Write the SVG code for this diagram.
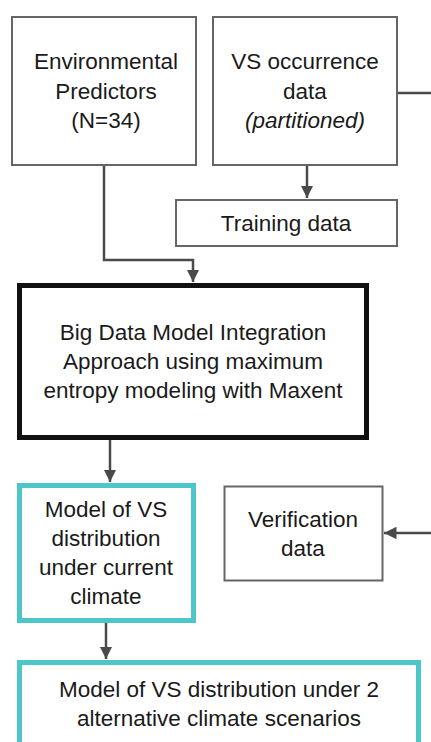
<svg xmlns="http://www.w3.org/2000/svg" width="431" height="742" viewBox="0 0 431 742">
<style>
.box{fill:#fff;stroke:#666;stroke-width:2}
.big{fill:#fff;stroke:#111;stroke-width:5}
.teal{fill:#fff;stroke:#4cc6c8;stroke-width:5}
text{font-family:"Liberation Sans",Arial,sans-serif;font-size:22.5px;fill:#1a1a1a;text-anchor:middle}
.c{fill:none;stroke:#4a4a4a;stroke-width:2.5}
</style>
<defs>
<marker id="ah" viewBox="0 0 10 10" refX="10" refY="5" markerWidth="5" markerHeight="5" orient="auto" markerUnits="strokeWidth">
<path d="M0,0 L10,5 L0,10 z" fill="#4a4a4a"/>
</marker>
</defs>
<rect width="431" height="742" fill="#fff"/>
<g id="connectors">
<path class="c" d="M104,165 V260 H193 V282" marker-end="url(#ah)"/>
<path class="c" d="M307,165 V198" marker-end="url(#ah)"/>
<path class="c" d="M397,93 H440 V533 H384" marker-end="url(#ah)"/>
<path class="c" d="M110,440 V482" marker-end="url(#ah)"/>
<path class="c" d="M106,623 V659" marker-end="url(#ah)"/>
</g>
<g id="env">
<rect class="box" x="12" y="17" width="184" height="148"/>
<text x="106" y="69">Environmental</text>
<text x="106" y="99">Predictors</text>
<text x="106" y="128">(N=34)</text>
</g>
<g id="vs">
<rect class="box" x="213" y="17" width="184" height="148"/>
<text x="305" y="69">VS occurrence</text>
<text x="305" y="99">data</text>
<text x="305" y="128" font-style="italic">(partitioned)</text>
</g>
<g id="training">
<rect class="box" x="176" y="200" width="221" height="46"/>
<text x="286" y="231">Training data</text>
</g>
<g id="maxent">
<rect class="big" x="19.5" y="285.5" width="347" height="152"/>
<text x="193" y="340">Big Data Model Integration</text>
<text x="193" y="369">Approach using maximum</text>
<text x="193" y="398">entropy modeling with Maxent</text>
</g>
<g id="current">
<rect class="teal" x="19.5" y="485.5" width="174" height="135"/>
<text x="106" y="517">Model of VS</text>
<text x="106" y="546">distribution</text>
<text x="106" y="575">under current</text>
<text x="106" y="604">climate</text>
</g>
<g id="verification">
<rect class="box" x="224.5" y="486.5" width="158" height="94"/>
<text x="303" y="527">Verification</text>
<text x="303" y="556">data</text>
</g>
<g id="future">
<rect class="teal" x="19.5" y="662.5" width="399" height="110"/>
<text x="219" y="697">Model of VS distribution under 2</text>
<text x="219" y="726">alternative climate scenarios</text>
</g>
</svg>
